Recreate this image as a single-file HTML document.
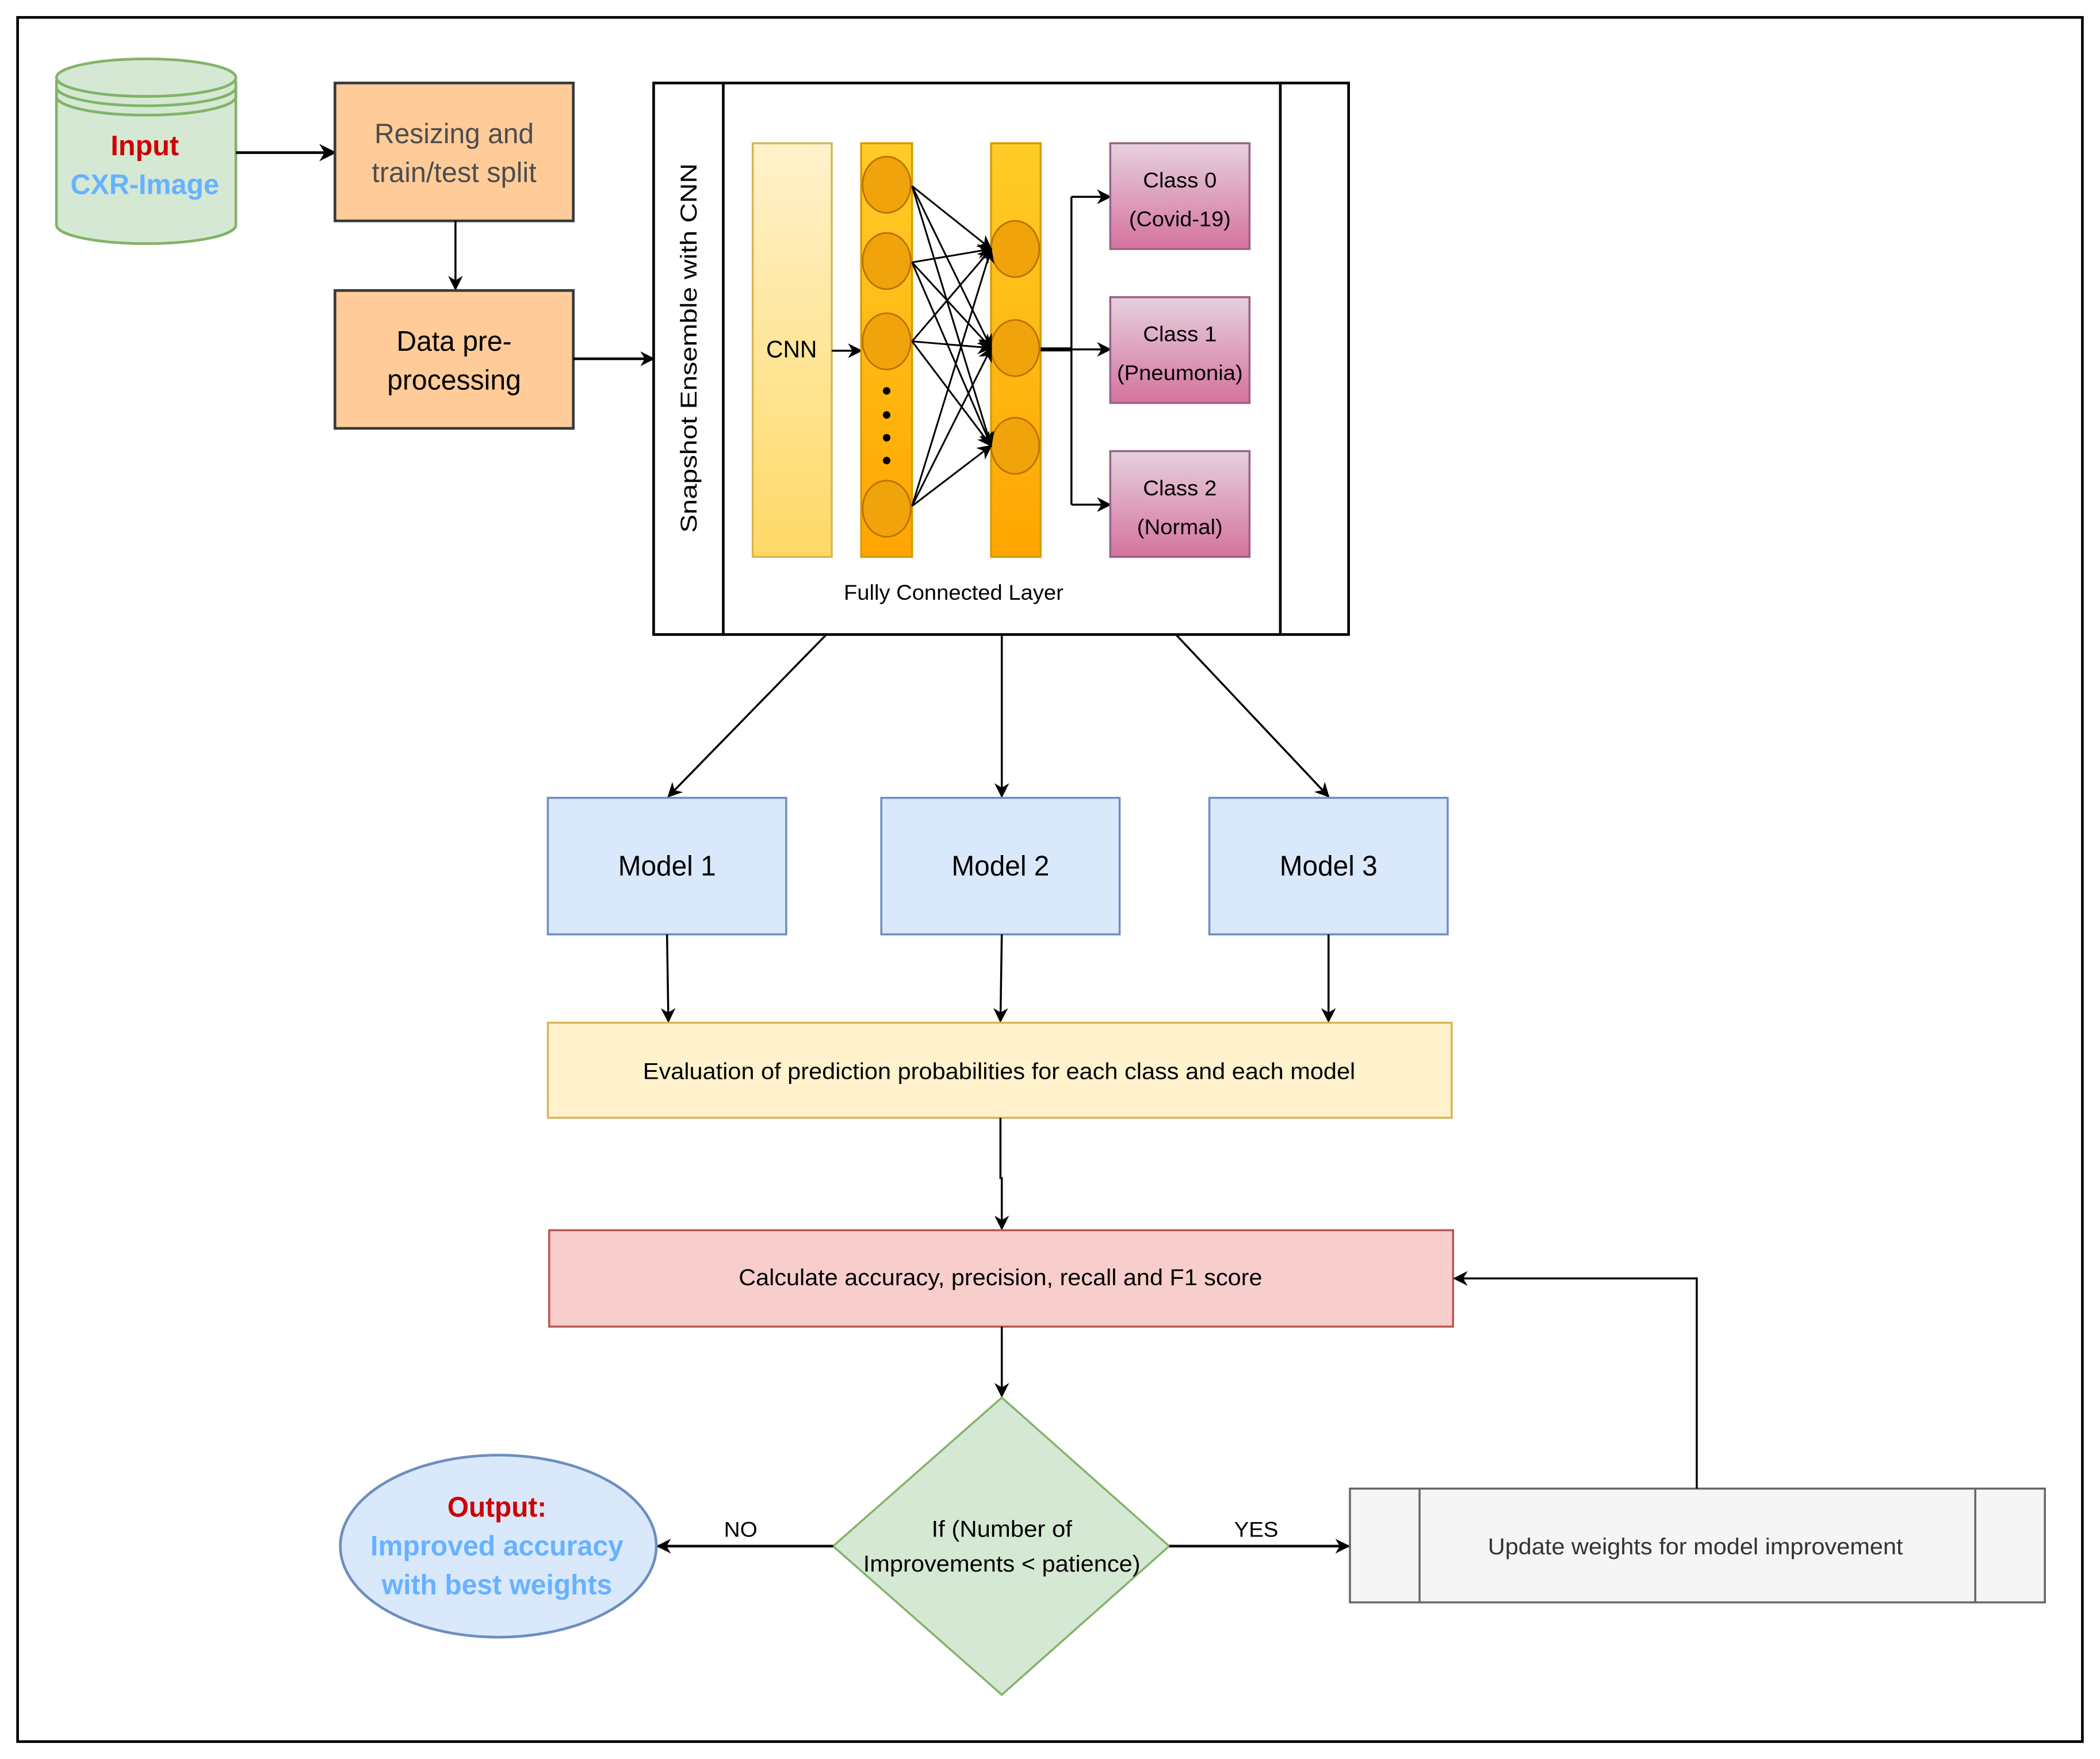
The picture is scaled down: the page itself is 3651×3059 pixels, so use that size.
<!DOCTYPE html>
<html><head><meta charset="utf-8"><style>html,body{margin:0;padding:0;background:#fff}svg{display:block}</style></head>
<body>
<svg xmlns="http://www.w3.org/2000/svg" width="3651" height="3059" viewBox="0 0 1568 1314" font-family="Liberation Sans, sans-serif">
<defs>
<marker id="a" viewBox="0 0 10 10" refX="9" refY="5" markerWidth="11" markerHeight="11" orient="auto" markerUnits="userSpaceOnUse"><path d="M0,0 L10,5 L0,10 L3,5 z" fill="#000"/></marker>
<marker id="b" viewBox="0 0 10 10" refX="9" refY="5" markerWidth="13" markerHeight="13" orient="auto" markerUnits="userSpaceOnUse"><path d="M0,0 L10,5 L0,10 L3,5 z" fill="#000"/></marker>
<linearGradient id="gy" x1="0" y1="0" x2="0" y2="1"><stop offset="0" stop-color="#fff2cc"/><stop offset="1" stop-color="#ffd966"/></linearGradient>
<linearGradient id="go" x1="0" y1="0" x2="0" y2="1"><stop offset="0" stop-color="#ffcd28"/><stop offset="1" stop-color="#ffa500"/></linearGradient>
<linearGradient id="gp" x1="0" y1="0" x2="0" y2="1"><stop offset="0" stop-color="#e6d0de"/><stop offset="1" stop-color="#d5739d"/></linearGradient>
</defs>
<rect x="13" y="13" width="1542" height="1288" fill="#fff" stroke="#000" stroke-width="2"/>

<path d="M42,60 L42,168 A67,14 0 0 0 176,168 L176,60" fill="#d5e8d4" stroke="#82b366" stroke-width="2"/>
<ellipse cx="109" cy="58" rx="67" ry="14" fill="#d5e8d4" stroke="#82b366" stroke-width="2"/>
<path d="M42,65 A67,14 0 0 0 176,65 M42,72 A67,14 0 0 0 176,72" fill="none" stroke="#82b366" stroke-width="2"/>
<text x="108" y="116" text-anchor="middle" font-size="21" font-weight="bold" fill="#cc0000" textLength="51" lengthAdjust="spacingAndGlyphs">Input</text>
<text x="108" y="145" text-anchor="middle" font-size="21" font-weight="bold" fill="#66b2ff" textLength="111" lengthAdjust="spacingAndGlyphs">CXR-Image</text>
<line x1="176" y1="114" x2="250" y2="114" stroke="#000" stroke-width="2" marker-end="url(#b)"/>

<rect x="250" y="62" width="178" height="103" fill="#ffcc99" stroke="#36393d" stroke-width="2"/>
<text x="339" y="107" text-anchor="middle" font-size="21" fill="#4d4d4d" textLength="119" lengthAdjust="spacingAndGlyphs">Resizing and</text>
<text x="339" y="136" text-anchor="middle" font-size="21" fill="#4d4d4d" textLength="123" lengthAdjust="spacingAndGlyphs">train/test split</text>
<line x1="340" y1="165" x2="340" y2="216" stroke="#000" stroke-width="1.5" marker-end="url(#a)"/>
<rect x="250" y="217" width="178" height="103" fill="#ffcc99" stroke="#36393d" stroke-width="2"/>
<text x="339" y="262" text-anchor="middle" font-size="21" fill="#000" textLength="86" lengthAdjust="spacingAndGlyphs">Data pre-</text>
<text x="339" y="291" text-anchor="middle" font-size="21" fill="#000" textLength="100" lengthAdjust="spacingAndGlyphs">processing</text>
<line x1="428" y1="268" x2="488" y2="268" stroke="#000" stroke-width="2" marker-end="url(#a)"/>

<rect x="488" y="62" width="519" height="412" fill="#fff" stroke="#000" stroke-width="2"/>
<line x1="540" y1="62" x2="540" y2="474" stroke="#000" stroke-width="2"/>
<line x1="956" y1="62" x2="956" y2="474" stroke="#000" stroke-width="2"/>
<text transform="translate(520,260) rotate(-90)" text-anchor="middle" font-size="17" fill="#000" textLength="276" lengthAdjust="spacingAndGlyphs">Snapshot Ensemble with CNN</text>

<rect x="562" y="107" width="59" height="309" fill="url(#gy)" stroke="#d6b656" stroke-width="1.5"/>
<text x="591" y="267" text-anchor="middle" font-size="18" textLength="38" lengthAdjust="spacingAndGlyphs">CNN</text>
<line x1="621" y1="262" x2="643" y2="262" stroke="#000" stroke-width="1.5" marker-end="url(#a)"/>
<rect x="643" y="107" width="38" height="309" fill="url(#go)" stroke="#d79b00" stroke-width="1.5"/>
<rect x="740" y="107" width="37" height="309" fill="url(#go)" stroke="#d79b00" stroke-width="1.5"/>
<g fill="#f0a30a" stroke="#bd7000" stroke-width="1.2">
<ellipse cx="662" cy="138" rx="18" ry="21"/><ellipse cx="662" cy="195" rx="18" ry="21"/><ellipse cx="662" cy="255" rx="18" ry="21"/><ellipse cx="662" cy="380" rx="18" ry="21"/>
<ellipse cx="758" cy="186" rx="18" ry="21"/><ellipse cx="758" cy="260" rx="18" ry="21"/><ellipse cx="758" cy="333" rx="18" ry="21"/>
</g>
<g fill="#000"><circle cx="662" cy="292" r="2.8"/><circle cx="662" cy="310" r="2.8"/><circle cx="662" cy="327" r="2.8"/><circle cx="662" cy="344" r="2.8"/></g>
<g stroke="#000" stroke-width="1.3" marker-end="url(#a)">
<line x1="681" y1="139" x2="740" y2="186"/><line x1="681" y1="139" x2="740" y2="260"/><line x1="681" y1="139" x2="740" y2="333"/>
<line x1="681" y1="196" x2="740" y2="186"/><line x1="681" y1="196" x2="740" y2="260"/><line x1="681" y1="196" x2="740" y2="333"/>
<line x1="681" y1="255" x2="740" y2="186"/><line x1="681" y1="255" x2="740" y2="260"/><line x1="681" y1="255" x2="740" y2="333"/>
<line x1="681" y1="378" x2="740" y2="186"/><line x1="681" y1="378" x2="740" y2="260"/><line x1="681" y1="378" x2="740" y2="333"/>
</g>
<path d="M777,261 L800,261" stroke="#000" stroke-width="3"/>
<path d="M800,147 L800,377" stroke="#000" stroke-width="1.5" fill="none"/>
<g stroke="#000" stroke-width="1.5" marker-end="url(#a)">
<line x1="800" y1="147" x2="829" y2="147"/><line x1="800" y1="261" x2="829" y2="261"/><line x1="800" y1="377" x2="829" y2="377"/>
</g>
<g stroke="#996185" stroke-width="1.5" fill="url(#gp)">
<rect x="829" y="107" width="104" height="79"/><rect x="829" y="222" width="104" height="79"/><rect x="829" y="337" width="104" height="79"/>
</g>
<g font-size="16" text-anchor="middle" fill="#000">
<text x="881" y="140" textLength="55" lengthAdjust="spacingAndGlyphs">Class 0</text>
<text x="881" y="169" textLength="76" lengthAdjust="spacingAndGlyphs">(Covid-19)</text>
<text x="881" y="255" textLength="55" lengthAdjust="spacingAndGlyphs">Class 1</text>
<text x="881" y="284" textLength="94" lengthAdjust="spacingAndGlyphs">(Pneumonia)</text>
<text x="881" y="370" textLength="55" lengthAdjust="spacingAndGlyphs">Class 2</text>
<text x="881" y="399" textLength="64" lengthAdjust="spacingAndGlyphs">(Normal)</text>
<text x="712" y="448" textLength="164" lengthAdjust="spacingAndGlyphs">Fully Connected Layer</text>
</g>

<g stroke="#000" stroke-width="1.5" marker-end="url(#a)">
<line x1="617" y1="474" x2="499" y2="595"/><line x1="748" y1="474" x2="748" y2="595"/><line x1="878" y1="474" x2="992" y2="595"/>
</g>
<g fill="#dae8fc" stroke="#6c8ebf" stroke-width="1.5">
<rect x="409" y="596" width="178" height="102"/><rect x="658" y="596" width="178" height="102"/><rect x="903" y="596" width="178" height="102"/>
</g>
<g font-size="21" text-anchor="middle">
<text x="498" y="654" textLength="73" lengthAdjust="spacingAndGlyphs">Model 1</text>
<text x="747" y="654" textLength="73" lengthAdjust="spacingAndGlyphs">Model 2</text>
<text x="992" y="654" textLength="73" lengthAdjust="spacingAndGlyphs">Model 3</text>
</g>
<g stroke="#000" stroke-width="1.5" marker-end="url(#a)">
<line x1="498" y1="698" x2="499" y2="763"/><line x1="748" y1="698" x2="747" y2="763"/><line x1="992" y1="698" x2="992" y2="763"/>
</g>
<rect x="409" y="764" width="675" height="71" fill="#fff2cc" stroke="#d6b656" stroke-width="1.5"/>
<text x="746" y="806" text-anchor="middle" font-size="17" textLength="532" lengthAdjust="spacingAndGlyphs">Evaluation of prediction probabilities for each class and each model</text>
<path d="M747,835 L747,880 L748,880 L748,918" stroke="#000" stroke-width="1.5" fill="none" marker-end="url(#a)"/>
<rect x="410" y="919" width="675" height="72" fill="#f8cecc" stroke="#b85450" stroke-width="1.5"/>
<text x="747" y="960" text-anchor="middle" font-size="17" textLength="391" lengthAdjust="spacingAndGlyphs">Calculate accuracy, precision, recall and F1 score</text>
<line x1="748" y1="991" x2="748" y2="1043" stroke="#000" stroke-width="1.5" marker-end="url(#a)"/>

<polygon points="748,1044 873,1155 748,1266 622,1155" fill="#d5e8d4" stroke="#82b366" stroke-width="1.5"/>
<text x="748" y="1148" text-anchor="middle" font-size="17" textLength="105" lengthAdjust="spacingAndGlyphs">If (Number of</text>
<text x="748" y="1174" text-anchor="middle" font-size="17" textLength="207" lengthAdjust="spacingAndGlyphs">Improvements &lt; patience)</text>
<line x1="622" y1="1155" x2="491" y2="1155" stroke="#000" stroke-width="2" marker-end="url(#a)"/>
<text x="553" y="1148" text-anchor="middle" font-size="16" textLength="25" lengthAdjust="spacingAndGlyphs">NO</text>
<line x1="873" y1="1155" x2="1007" y2="1155" stroke="#000" stroke-width="2" marker-end="url(#a)"/>
<text x="938" y="1148" text-anchor="middle" font-size="16" textLength="33" lengthAdjust="spacingAndGlyphs">YES</text>

<ellipse cx="372" cy="1155" rx="118" ry="68" fill="#dae8fc" stroke="#6c8ebf" stroke-width="2"/>
<text x="371" y="1133" text-anchor="middle" font-size="21" font-weight="bold" fill="#cc0000" textLength="74" lengthAdjust="spacingAndGlyphs">Output:</text>
<text x="371" y="1162" text-anchor="middle" font-size="21" font-weight="bold" fill="#66b2ff" textLength="189" lengthAdjust="spacingAndGlyphs">Improved accuracy</text>
<text x="371" y="1191" text-anchor="middle" font-size="21" font-weight="bold" fill="#66b2ff" textLength="172" lengthAdjust="spacingAndGlyphs">with best weights</text>

<rect x="1008" y="1112" width="519" height="85" fill="#f5f5f5" stroke="#666" stroke-width="1.5"/>
<line x1="1060" y1="1112" x2="1060" y2="1197" stroke="#666" stroke-width="1.5"/>
<line x1="1475" y1="1112" x2="1475" y2="1197" stroke="#666" stroke-width="1.5"/>
<text x="1266" y="1161" text-anchor="middle" font-size="17" fill="#333" textLength="310" lengthAdjust="spacingAndGlyphs">Update weights for model improvement</text>
<path d="M1267,1112 L1267,955 L1086,955" stroke="#000" stroke-width="1.5" fill="none" marker-end="url(#a)"/>
</svg>
</body></html>
